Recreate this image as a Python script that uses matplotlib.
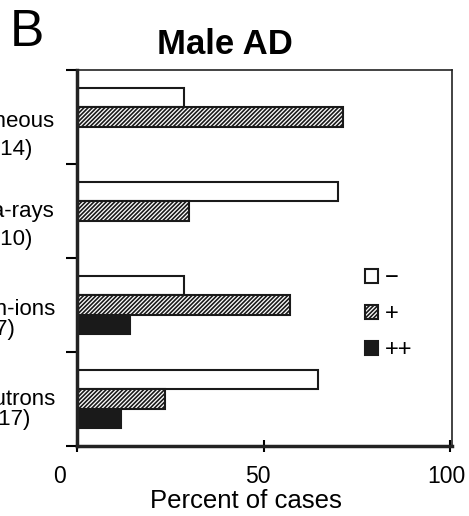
import matplotlib
matplotlib.use("Agg")
import matplotlib.pyplot as plt
import matplotlib.transforms as mtransforms
import numpy as np

plt.rcParams['font.family'] = ['Liberation Sans', 'DejaVu Sans']
plt.rcParams['hatch.linewidth'] = 1.2

# ---- data ----
categories_line1 = ["Spontaneous", "Gamma-rays", "Iron-ions", "Neutrons"]
categories_line2 = ["(n = 14)", "(n = 10)", "(n = 7)", "(n = 17)"]
grades = ["\u2212", "+", "++"]
pct_minus = [28.6, 70.0, 28.6, 64.7]
pct_plus = [71.4, 30.0, 57.1, 23.5]
pct_plusplus = [0.0, 0.0, 14.3, 11.8]
xticks = [0, 50, 100]
title = "Male AD"
panel = "B"
xlabel = "Percent of cases"

W, H = 469, 516
fig = plt.figure(figsize=(W / 100, H / 100), dpi=100)
ax = fig.add_axes([77 / W, 1 - 446 / H, (452 - 77) / W, (446 - 70) / H])

y = np.arange(len(categories_line1))
bh = 0.207
series = [pct_minus, pct_plus, pct_plusplus]
faces = ["white", "white", "#1a1a1a"]
hatches = [None, "////////", None]
handles = []
for i, (vals, fc, ht) in enumerate(zip(series, faces, hatches)):
    b = ax.barh(y + (i - 1) * bh, vals, height=bh, color=fc, edgecolor="#1a1a1a",
                linewidth=1.5, hatch=ht, label=grades[i])
    handles.append(b)

ax.set_ylim(3.5, -0.5)
ax.set_xlim(0, 100.5)
ax.set_yticks(np.arange(-0.5, 4.0, 1.0))
ax.set_yticklabels([])
ax.set_xticks(xticks)
ax.set_xticklabels([str(t) for t in xticks], fontsize=16.5)
for sp in ax.spines.values():
    sp.set_linewidth(1.2)
    sp.set_color("#222222")
ax.spines['left'].set_linewidth(2.5)
ax.spines['bottom'].set_linewidth(2.5)
ax.tick_params(axis='y', direction='out', length=8, width=1.5)
ax.tick_params(axis='x', direction='inout', length=8, width=1.5, pad=10)

# shift tick labels slightly to match reference
offsets_px = [-18, -6, -4]
for lab, dx in zip(ax.get_xticklabels(), offsets_px):
    lab.set_transform(lab.get_transform() + mtransforms.Affine2D().translate(dx, 0))

ax.set_xlabel(xlabel, fontsize=18.5, va='top')
ax.xaxis.set_label_coords((246 - 77) / (452 - 77), -(489 - 446) / (446 - 70))

# category labels (two lines, each right-aligned; clipped by the figure edge)
l1_dx = [-22, -22, -22, -22]
l1_dy = [-10, -6, -10, -6]
l2_dx = [-45, -45, -62, -47]
l2_dy = [-38, -34, -30, -26]
for i in range(len(y)):
    ax.annotate(categories_line1[i], xy=(0, y[i]), xycoords=('axes fraction', 'data'),
                xytext=(l1_dx[i], l1_dy[i]), textcoords='offset pixels',
                ha='right', va='baseline', fontsize=16, annotation_clip=False)
    ax.annotate(categories_line2[i], xy=(0, y[i]), xycoords=('axes fraction', 'data'),
                xytext=(l2_dx[i], l2_dy[i]), textcoords='offset pixels',
                ha='right', va='baseline', fontsize=16, annotation_clip=False)

leg = ax.legend(handles=handles, labels=grades, frameon=False, fontsize=17,
                handlelength=0.55, handleheight=0.55, handletextpad=0.3,
                labelspacing=0.6, loc='upper left',
                bbox_to_anchor=(365 / W, 1 - 267 / H), bbox_transform=fig.transFigure,
                borderpad=0, borderaxespad=0)

fig.text(225 / W, 1 - 45 / H, title, ha='center', va='center', fontsize=25,
         fontweight='bold')
fig.text(10 / W, 1 - 33 / H, panel, ha='left', va='center', fontsize=37)

fig.savefig("out.png", dpi=100)
